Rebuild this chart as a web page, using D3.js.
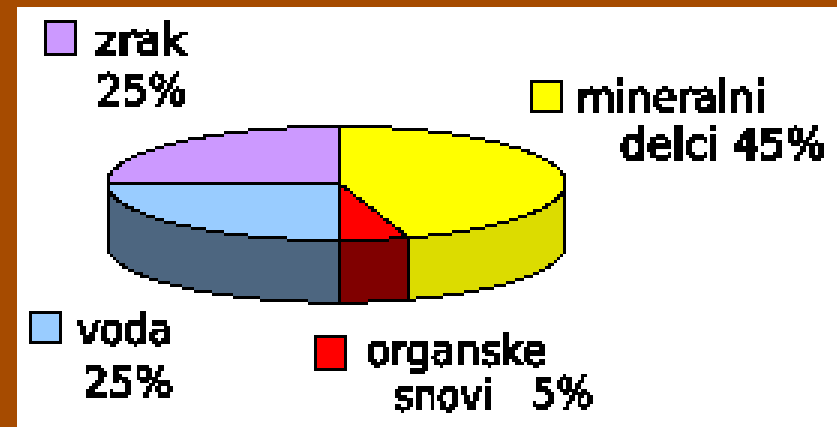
<!DOCTYPE html>
<html>
<head>
<meta charset="utf-8">
<script src="https://cdn.jsdelivr.net/npm/d3@7"></script>
<style>
  html, body { margin: 0; padding: 0; background: #fff; overflow: hidden; }
  text { font-family: "DejaVu Sans", sans-serif; font-weight: 400; fill: #000; stroke: #000; stroke-width: 2.6px; }
</style>
</head>
<body>
<div id="chart"></div>
<script>
// Values, clockwise from 12 o'clock
const categories = ['mineralni delci', 'organske snovi', 'voda', 'zrak'];
const shares = [45, 5, 25, 25];
const topColors = ['#ffff00', '#ff0000', '#99ccff', '#cc99ff'];
const wallColors = ['#dcdc00', '#800000', '#4d6680', '#6b4d99'];

// One entry per legend: square corner, then text lines
const legendSquares = [[530, 79], [314, 336], [29, 311], [43, 21]];
const legendLines = [
  [{ t: 'mineralni', x: 577, y: 112, w: 188 }, { t: 'delci 45%', x: 620, y: 159, w: 206 }],
  [{ t: 'organske', x: 366, y: 365, w: 181 }, { t: 'snovi', x: 394, y: 410, w: 99 }, { t: '5%', x: 532, y: 408, w: 61 }],
  [{ t: 'voda', x: 77, y: 344, w: 95 }, { t: '25%', x: 83, y: 397, w: 90 }],
  [{ t: 'zrak', x: 95, y: 55, w: 92 }, { t: '25%', x: 97, y: 105, w: 90 }]
];

const W = 837, H = 427;
const depth = 62;

const svg = d3.select('#chart').append('svg')
  .attr('width', W).attr('height', H)
  .style('display', 'block');

const defs = svg.append('defs');

// Chunky 3px pixels, the original is a blown up bitmap
const pix = defs.append('filter').attr('id', 'pix')
  .attr('filterUnits', 'userSpaceOnUse')
  .attr('x', 0).attr('y', 0).attr('width', W).attr('height', H)
  .attr('color-interpolation-filters', 'sRGB');
pix.append('feFlood').attr('x', 0).attr('y', 0).attr('width', 1).attr('height', 1)
  .attr('flood-color', '#000');
pix.append('feComposite').attr('x', 0).attr('y', 0).attr('width', 3).attr('height', 3);
pix.append('feTile').attr('x', 0).attr('y', 0).attr('width', W).attr('height', H).attr('result', 'grid');
pix.append('feComposite').attr('in', 'SourceGraphic').attr('in2', 'grid').attr('operator', 'in');
pix.append('feMorphology').attr('operator', 'dilate').attr('radius', 1);

// Hard edge for the text, no grey pixels
const hard = defs.append('filter').attr('id', 'hard')
  .attr('filterUnits', 'userSpaceOnUse')
  .attr('x', 0).attr('y', 0).attr('width', W).attr('height', H);
hard.append('feComponentTransfer').append('feFuncA')
  .attr('type', 'discrete').attr('tableValues', '0 1');

const root = svg.append('g').attr('filter', 'url(#pix)');

root.append('rect').attr('width', W).attr('height', H).attr('fill', '#fff');

// The picture's centre sits a little off the middle of the ellipse
const x = d3.scaleLinear().domain([-1, 0, 1]).range([107.5, 339, 565.5]);
const y = d3.scaleLinear().domain([-1, 0, 1]).range([240.5, 183, 126.5]);

const arcs = d3.pie().sort(null).value(d => d)(shares);
const line = d3.line();

function rim(a0, a1, dy) {
  const n = Math.max(2, Math.ceil((a1 - a0) * 40));
  return d3.range(n + 1).map(i => {
    const a = a0 + (a1 - a0) * i / n;
    return [x(Math.sin(a)), y(Math.cos(a)) + dy];
  });
}

// Side wall, only the front half of the rim shows
arcs.forEach(d => {
  const a0 = Math.max(d.startAngle, Math.PI / 2);
  const a1 = Math.min(d.endAngle, Math.PI * 1.5);
  if (a1 <= a0) return;
  const pts = rim(a0, a1, 0).concat(rim(a0, a1, depth).reverse());
  root.append('path')
    .attr('d', line(pts) + 'Z')
    .attr('fill', wallColors[d.index])
    .attr('stroke', '#000').attr('stroke-width', 3)
    .attr('stroke-linejoin', 'miter')
    .attr('shape-rendering', 'crispEdges');
});

// Top of the pie
arcs.forEach(d => {
  const pts = [[x(0), y(0)]].concat(rim(d.startAngle, d.endAngle, 0));
  root.append('path')
    .attr('d', line(pts) + 'Z')
    .attr('fill', topColors[d.index])
    .attr('stroke', '#000').attr('stroke-width', 3)
    .attr('shape-rendering', 'crispEdges');
});

// Legends
categories.forEach((c, i) => {
  const g = root.append('g').attr('class', 'legend');
  g.append('rect')
    .attr('x', legendSquares[i][0] + 1.5).attr('y', legendSquares[i][1] + 1.5)
    .attr('width', 31).attr('height', 31)
    .attr('fill', topColors[i])
    .attr('stroke', '#000').attr('stroke-width', 3)
    .attr('shape-rendering', 'crispEdges');
  g.append('g').attr('filter', 'url(#hard)')
    .selectAll('text').data(legendLines[i]).enter().append('text')
    .attr('x', d => d.x).attr('y', d => d.y)
    .attr('font-size', 42)
    .attr('textLength', d => d.w)
    .attr('lengthAdjust', 'spacingAndGlyphs')
    .text(d => d.t);
});

// Brown frame, left and top only
const frame = svg.append('g').attr('fill', '#a64b00');
frame.append('rect').attr('width', W).attr('height', 7);
frame.append('rect').attr('width', 17).attr('height', H);
</script>
</body>
</html>
